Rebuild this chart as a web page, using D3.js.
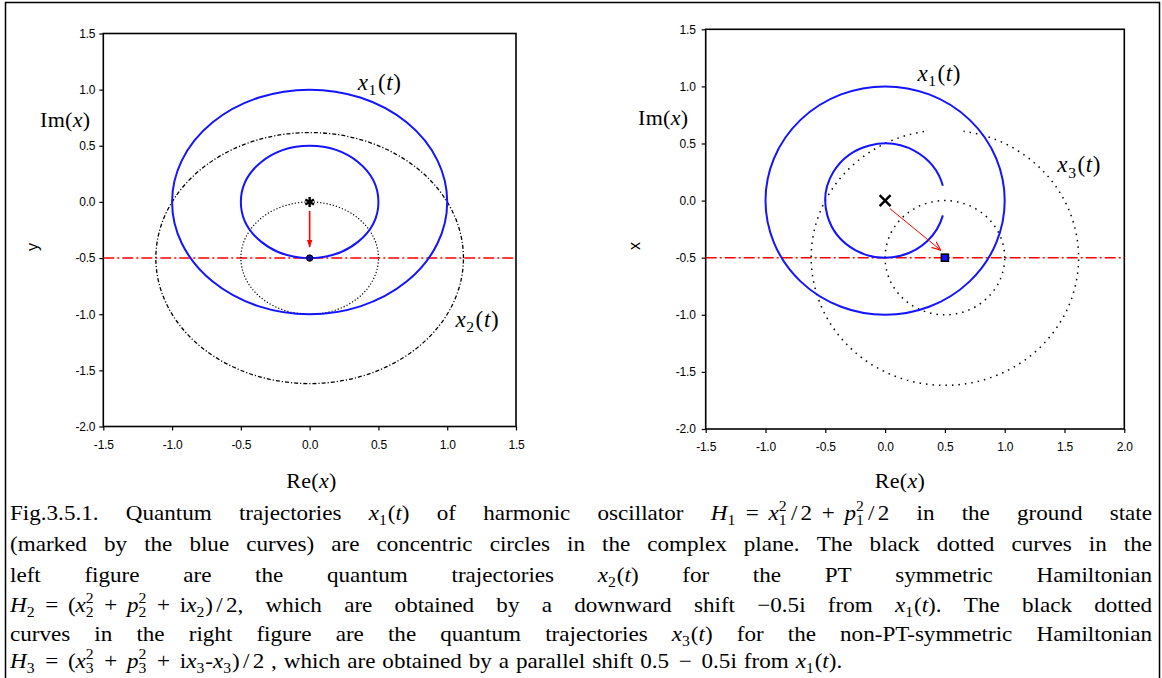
<!DOCTYPE html>
<html><head><meta charset="utf-8">
<script src="https://cdn.jsdelivr.net/npm/d3@7"></script>
<style>body{margin:0;background:#fff;}</style>
</head><body>
<svg id="c" width="1162" height="678" xmlns="http://www.w3.org/2000/svg"></svg>
<script>
// ---------------- data ----------------
const yDomain = [-2.0, 1.5];
const yTicks = [1.5, 1.0, 0.5, 0.0, -0.5, -1.0, -1.5, -2.0];
const xDomainLeft = [-1.5, 1.5];
const xTicksLeft = [-1.5, -1.0, -0.5, 0.0, 0.5, 1.0, 1.5];
const xDomainRight = [-1.5, 2.0];
const xTicksRight = [-1.5, -1.0, -0.5, 0.0, 0.5, 1.0, 1.5, 2.0];

// trajectories: centre (cx, cy), radius r, arc from a0 to a1 (degrees)
const leftBlue = [
  {cx: 0, cy: 0, r: 1.0, a0: 0, a1: 360},
  {cx: 0, cy: 0, r: 0.5, a0: 0, a1: 360}
];
const leftBlackDashDot = [{cx: 0, cy: -0.5, r: 1.118, a0: 0, a1: 360}];
const leftBlackDotted = [{cx: 0, cy: -0.5, r: 0.5, a0: 0, a1: 360}];
const rightBlue = [
  {cx: 0, cy: 0, r: 1.0, a0: 0, a1: 360},
  {cx: 0, cy: 0, r: 0.5, a0: 15, a1: 345}
];
const rightBlackDotted = [
  {cx: 0.5, cy: -0.5, r: 0.5, a0: 0, a1: 360},
  {cx: 0.5, cy: -0.5, r: 1.118, a0: 99, a1: 442}
];
const refLineY = -0.5;
const leftStart = [0, 0], leftEnd = [0, -0.5], leftArrow = [[0, -0.08], [0, -0.40]];
const rightStart = [0, 0], rightEnd = [0.5, -0.5], rightArrow = [[0.04, -0.07], [0.46, -0.43]];
const leftLabels = [{x: 0.35, y: 1.0, t: "$x_1(t)$"}, {x: 1.06, y: -1.11, t: "$x_2(t)$"}];
const rightLabels = [{x: 0.27, y: 1.05, t: "$x_1(t)$"}, {x: 1.44, y: 0.25, t: "$x_3(t)$"}];
const captionLines = [
  "Fig.3.5.1. Quantum trajectories $x_1(t)$ of harmonic oscillator $H_1~=~x_1^2`/`2~+~p_1^2`/`2$ in the ground state",
  "(marked by the blue curves) are concentric circles in the complex plane. The black dotted curves in the",
  "left figure are the quantum trajectories $x_2(t)$ for the PT symmetric Hamiltonian",
  "$H_2~=~(x_2^2~+~p_2^2~+~\\ix_2)`/`2$, which are obtained by a downward shift $−0.5\\i$ from $x_1(t)$. The black dotted",
  "curves in the right figure are the quantum trajectories $x_3(t)$ for the non-PT-symmetric Hamiltonian",
  "$H_3~=~(x_3^2~+~p_3^2~+~\\ix_3-x_3)`/`2$ , which are obtained by a parallel shift $0.5~−~0.5\\i$ from $x_1(t)$."
];

// ---------------- rendering ----------------
const SERIF = "'Liberation Serif', 'DejaVu Serif', serif";
const SANS = "'Liberation Sans', Arial, sans-serif";
const BLUE = "#1414ff", RED = "#ff0000";
const svg = d3.select("#c");

svg.append("rect").attr("x", 5.5).attr("y", 2.5).attr("width", 1154).attr("height", 720)
  .attr("fill", "none").attr("stroke", "#000").attr("stroke-width", 1.5);

function parseRich(str) {
  const segs = []; let math = false;
  const push = (t, s) => {
    const last = segs[segs.length - 1];
    if (last && last.s === s && (s === 'r' || s === 'i')) last.t += t; else segs.push({t, s});
  };
  for (let i = 0; i < str.length; i++) {
    const ch = str[i];
    if (ch === '$') { math = !math; continue; }
    if (!math) { push(ch, 'r'); continue; }
    if (ch === '~') { segs.push({s: 'sp'}); continue; }
    if (ch === '`') { segs.push({s: 'thin'}); continue; }
    if (ch === '\\') { i++; push(str[i], 'r'); continue; }
    if (ch === '_' || ch === '^') {
      const a = str[++i]; let sub = null, sup = null;
      if (ch === '_') sub = a; else sup = a;
      if (ch === '_' && str[i + 1] === '^') { sup = str[i + 2]; i += 2; }
      else if (ch === '^' && str[i + 1] === '_') { sub = str[i + 2]; i += 2; }
      segs.push({s: 'ss', sub, sup}); continue;
    }
    push(ch, /[A-Za-z]/.test(ch) ? 'i' : 'r');
  }
  return segs;
}
function drawRich(g, segs, size, ls, mathSpace) {
  let x = 0;
  const mk = (t, fs, italic, dy) => {
    const el = g.append("text").attr("x", x).attr("y", dy)
      .attr("font-family", SERIF).attr("font-size", fs)
      .attr("font-style", italic ? "italic" : "normal")
      .attr("letter-spacing", ls).attr("fill", "#000").text(t);
    return el.node().getComputedTextLength();
  };
  for (const s of segs) {
    if (s.s === 'sp') { x += size * (mathSpace || 0.22); continue; }
    if (s.s === 'thin') { x += size * 0.14; continue; }
    if (s.s === 'r' || s.s === 'i') { x += mk(s.t, size, s.s === 'i', 0); continue; }
    let w = 0;
    if (s.sub) w = Math.max(w, mk(s.sub, size * 0.68, false, size * 0.25));
    if (s.sup) w = Math.max(w, mk(s.sup, size * 0.68, false, -size * 0.42));
    x += w + size * 0.04;
  }
  return x;
}
function richAt(parent, str, px, py, size, ls, anchor) {
  const g = parent.append("g");
  const w = drawRich(g, parseRich(str), size, ls);
  const dx = anchor === "middle" ? -w / 2 : 0;
  g.attr("transform", `translate(${px + dx},${py})`);
  return g;
}

function arcPath(x, y, c) {
  const rx = Math.abs(x(c.cx + c.r) - x(c.cx)), ry = Math.abs(y(c.cy + c.r) - y(c.cy));
  const X = a => x(c.cx + c.r * Math.cos(a * Math.PI / 180));
  const Y = a => y(c.cy + c.r * Math.sin(a * Math.PI / 180));
  let d = `M${X(c.a0)},${Y(c.a0)}`;
  for (let a = c.a0; a < c.a1; ) {
    const b = Math.min(a + 90, c.a1);
    d += `A${rx},${ry} 0 0 0 ${X(b)},${Y(b)}`;
    a = b;
  }
  return d;
}

const fmt = d => d3.format(".1f")(d).replace("−", "-");

function frame(cfg) {
  const g = svg.append("g");
  const x = d3.scaleLinear().domain(cfg.xDomain).range([cfg.left, cfg.right]);
  const y = d3.scaleLinear().domain(yDomain).range([cfg.bottom, cfg.top]);
  const ax = g.append("g").attr("transform", `translate(0,${cfg.bottom})`)
    .call(d3.axisBottom(x).tickValues(cfg.xTicks).tickFormat(fmt).tickSize(4).tickSizeOuter(0).tickPadding(cfg.xPad));
  const ay = g.append("g").attr("transform", `translate(${cfg.left},0)`)
    .call(d3.axisLeft(y).tickValues(yTicks).tickFormat(fmt).tickSize(4).tickSizeOuter(0).tickPadding(cfg.yPad));
  [ax, ay].forEach(a => {
    a.select(".domain").remove();
    a.selectAll("line").attr("stroke", "#000").attr("stroke-width", 1.2);
    a.selectAll("text").attr("font-family", SANS).attr("font-size", 12).attr("fill", "#000").attr("letter-spacing", -0.2);
  });
  g.append("rect").attr("x", cfg.left).attr("y", cfg.top)
    .attr("width", cfg.right - cfg.left).attr("height", cfg.bottom - cfg.top)
    .attr("fill", "none").attr("stroke", "#000").attr("stroke-width", 1.6);
  return {g, x, y};
}

const defs = svg.append("defs");
defs.append("marker").attr("id", "headFilled").attr("viewBox", "0 0 10 10").attr("refX", 9).attr("refY", 5)
  .attr("markerWidth", 5).attr("markerHeight", 5).attr("orient", "auto")
  .append("path").attr("d", "M0,1.5L10,5L0,8.5Z").attr("fill", RED);
defs.append("marker").attr("id", "headOpen").attr("viewBox", "0 0 10 10").attr("refX", 9).attr("refY", 5)
  .attr("markerWidth", 9).attr("markerHeight", 9).attr("markerUnits", "userSpaceOnUse").attr("orient", "auto")
  .append("path").attr("d", "M0,1L10,5L0,9").attr("fill", "none").attr("stroke", RED).attr("stroke-width", 1.3);

// ---------- left panel ----------
{
  const {g, x, y} = frame({xDomain: xDomainLeft, xTicks: xTicksLeft, left: 103.3, right: 516, top: 33.5, bottom: 426.5, xPad: 10, yPad: 4});
  g.append("line").attr("x1", x(xDomainLeft[0])).attr("x2", x(xDomainLeft[1]))
    .attr("y1", y(refLineY)).attr("y2", y(refLineY))
    .attr("stroke", RED).attr("stroke-width", 1.5).attr("stroke-dasharray", "11,3,2,3");
  g.selectAll(".bdd").data(leftBlackDashDot).join("path").attr("d", c => arcPath(x, y, c))
    .attr("fill", "none").attr("stroke", "#000").attr("stroke-width", 1.3).attr("stroke-dasharray", "4,2,1.2,2");
  g.selectAll(".bdt").data(leftBlackDotted).join("path").attr("d", c => arcPath(x, y, c))
    .attr("fill", "none").attr("stroke", "#000").attr("stroke-width", 1.2).attr("stroke-dasharray", "1.2,2");
  g.selectAll(".blu").data(leftBlue).join("path").attr("d", c => arcPath(x, y, c))
    .attr("fill", "none").attr("stroke", BLUE).attr("stroke-width", 2);
  g.append("line").attr("x1", x(leftArrow[0][0])).attr("y1", y(leftArrow[0][1]))
    .attr("x2", x(leftArrow[1][0])).attr("y2", y(leftArrow[1][1]))
    .attr("stroke", RED).attr("stroke-width", 1.6).attr("marker-end", "url(#headFilled)");
  g.append("path").attr("d", d3.symbol(d3.symbolAsterisk, 70))
    .attr("transform", `translate(${x(leftStart[0])},${y(leftStart[1])})`)
    .attr("stroke", "#000").attr("stroke-width", 2.4).attr("fill", "none");
  g.append("circle").attr("cx", x(leftEnd[0])).attr("cy", y(leftEnd[1])).attr("r", 3.2)
    .attr("fill", "#1010a0").attr("stroke", "#000").attr("stroke-width", 1);
  leftLabels.forEach(l => richAt(g, l.t, x(l.x), y(l.y), 23, 0.6));
  richAt(svg, "Im($x$)", 40, 127, 22, 0.3);
  richAt(svg, "Re($x$)", 311.5, 488, 22, 0.3, "middle");
  svg.append("text").attr("transform", "translate(38,247) rotate(-90)").attr("text-anchor", "middle")
    .attr("font-family", SANS).attr("font-size", 16).attr("fill", "#000").text("y");
}

// ---------- right panel ----------
{
  const {g, x, y} = frame({xDomain: xDomainRight, xTicks: xTicksRight, left: 705.7, right: 1124.3, top: 29.3, bottom: 429, xPad: 9, yPad: 6});
  g.append("line").attr("x1", x(xDomainRight[0])).attr("x2", x(xDomainRight[1]))
    .attr("y1", y(refLineY)).attr("y2", y(refLineY))
    .attr("stroke", RED).attr("stroke-width", 1.5).attr("stroke-dasharray", "11,3,2,3");
  g.selectAll(".bdt").data(rightBlackDotted).join("path").attr("d", c => arcPath(x, y, c))
    .attr("fill", "none").attr("stroke", "#000").attr("stroke-width", 1.5).attr("stroke-dasharray", "1.5,5");
  g.selectAll(".blu").data(rightBlue).join("path").attr("d", c => arcPath(x, y, c))
    .attr("fill", "none").attr("stroke", BLUE).attr("stroke-width", 2);
  g.append("line").attr("x1", x(rightArrow[0][0])).attr("y1", y(rightArrow[0][1]))
    .attr("x2", x(rightArrow[1][0])).attr("y2", y(rightArrow[1][1]))
    .attr("stroke", RED).attr("stroke-width", 1).attr("marker-end", "url(#headOpen)");
  g.append("path").attr("d", d3.symbol(d3.symbolTimes, 80))
    .attr("transform", `translate(${x(rightStart[0])},${y(rightStart[1])})`)
    .attr("stroke", "#000").attr("stroke-width", 2.4).attr("fill", "none");
  g.append("rect").attr("x", x(rightEnd[0]) - 3.5).attr("y", y(rightEnd[1]) - 3.5).attr("width", 7).attr("height", 7)
    .attr("fill", BLUE).attr("stroke", "#000").attr("stroke-width", 1.6);
  rightLabels.forEach(l => richAt(g, l.t, x(l.x), y(l.y), 23, 0.6));
  richAt(svg, "Im($x$)", 638, 125, 22, 0.3);
  richAt(svg, "Re($x$)", 900, 488, 22, 0.3, "middle");
  svg.append("text").attr("transform", "translate(640,246) rotate(-90)").attr("text-anchor", "middle")
    .attr("font-family", SANS).attr("font-size", 16).attr("fill", "#000").text("x");
}

// ---------- caption ----------
const CAP_SIZE = 21, CAP_LEFT = 10, CAP_RIGHT = 1152, SPACE = CAP_SIZE * 0.3, SX = 1.1;
const capBaselines = [520, 551, 582, 612, 641, 668];
const cap = svg.append("g");
const lines = captionLines.map(str => str.split(" ").map(w => {
  const g = cap.append("g");
  return {g, w: drawRich(g, parseRich(w), CAP_SIZE, 0, 0.42)};
}));
lines.forEach((l, i) => {
  const total = d3.sum(l, d => d.w) * SX;
  const justify = i < lines.length - 1;
  const gap = justify ? Math.max(SPACE * SX, (CAP_RIGHT - CAP_LEFT - total) / (l.length - 1)) : SPACE * SX;
  let xPos = CAP_LEFT;
  l.forEach(d => {
    d.g.attr("transform", `translate(${xPos},${capBaselines[i]}) scale(${SX},1)`);
    xPos += d.w * SX + gap;
  });
});
</script>
</body></html>
